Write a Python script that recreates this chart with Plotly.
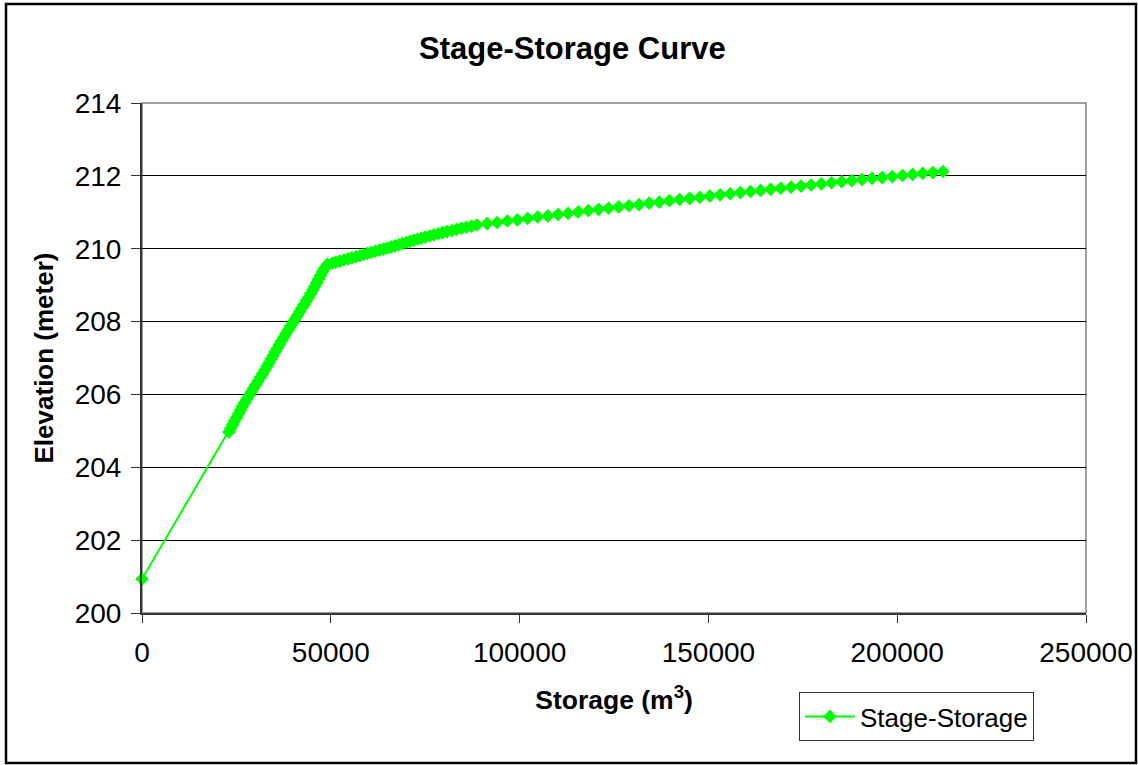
import plotly.graph_objects as go

# Stage-storage table: storage volume (m3) and water surface elevation (m)
storage = [
    0,
    # steep lower reach
    23000, 23500, 24000, 24500, 25050, 25600, 26100, 26600, 27150, 27750,
    28350, 28950, 29550, 30150, 30750, 31350, 31950, 32550, 33100, 33650,
    34200, 34750, 35300, 35850, 36400, 36950, 37550, 38150, 38750, 39350,
    39950, 40550, 41150, 41750, 42350, 42950, 43550, 44150, 44700, 45250,
    45800, 46300, 46800, 47300, 47800, 48400, 49100,
    # transition reach
    50400, 51300, 52400, 53500, 54600, 55600, 56700, 57700, 58700, 59700,
    60700, 61800, 62900, 64000, 65000, 66000, 67000, 68000, 69000, 70000,
    71000, 72000, 73000, 74000, 75000, 76200, 77300, 78500, 79600, 80800,
    82100, 83300, 84600, 85900, 87300,
    # upper reach
    88700, 91380, 94070, 96750, 99430, 102120, 104800, 107480, 110160, 112850,
    115530, 118210, 120900, 123580, 126260, 128950, 131630, 134310, 137000, 139680,
    142360, 145040, 147730, 150410, 153090, 155780, 158460, 161140, 163830, 166510,
    169190, 171880, 174560, 177240, 179920, 182610, 185290, 187970, 190660, 193340,
    196020, 198710, 201390, 204070, 206760, 209440, 212120,
]

elevation = [
    200.93,
    204.97, 205.07, 205.17, 205.27, 205.37, 205.47, 205.57, 205.67, 205.77, 205.87,
    205.97, 206.07, 206.17, 206.27, 206.37, 206.47, 206.57, 206.67, 206.77, 206.87,
    206.97, 207.07, 207.17, 207.27, 207.37, 207.47, 207.57, 207.67, 207.77, 207.87,
    207.97, 208.07, 208.17, 208.27, 208.37, 208.47, 208.57, 208.67, 208.77, 208.87,
    208.97, 209.07, 209.17, 209.27, 209.37, 209.47, 209.57,
    209.60, 209.63, 209.66, 209.69, 209.72, 209.75, 209.78, 209.81, 209.84, 209.87,
    209.90, 209.93, 209.96, 209.99, 210.02, 210.05, 210.08, 210.11, 210.14, 210.17,
    210.20, 210.23, 210.26, 210.29, 210.32, 210.35, 210.38, 210.41, 210.44, 210.47,
    210.50, 210.53, 210.56, 210.59, 210.62,
    210.65, 210.69, 210.72, 210.76, 210.79, 210.83, 210.87, 210.90, 210.94, 210.97,
    211.01, 211.05, 211.08, 211.11, 211.15, 211.18, 211.21, 211.25, 211.28, 211.32,
    211.35, 211.38, 211.41, 211.45, 211.48, 211.51, 211.54, 211.57, 211.60, 211.63,
    211.66, 211.69, 211.72, 211.75, 211.78, 211.81, 211.84, 211.87, 211.90, 211.93,
    211.95, 211.98, 212.01, 212.04, 212.07, 212.09, 212.12,
]

x_ticks = [0, 50000, 100000, 150000, 200000, 250000]
y_ticks = [200, 202, 204, 206, 208, 210, 212, 214]

FONT = "Liberation Sans, Arial, sans-serif"
GREEN = "#00FF00"

fig = go.Figure()
fig.add_trace(go.Scatter(
    x=storage,
    y=elevation,
    mode="lines+markers",
    name="Stage-Storage",
    line=dict(color=GREEN, width=2),
    marker=dict(symbol="diamond", size=10.5, color=GREEN),
    cliponaxis=False,
))

fig.update_layout(
    width=1138,
    height=765,
    margin=dict(l=142, r=52, t=103, b=152),
    paper_bgcolor="white",
    plot_bgcolor="white",
    font=dict(family=FONT, color="black"),
    title=dict(
        text="<b>Stage-Storage Curve</b>",
        font=dict(size=31, family=FONT, color="black"),
        x=0.503, xref="container", xanchor="center",
        y=1 - 48 / 765, yref="container", yanchor="middle",
    ),
    xaxis=dict(
        range=[0, 250000],
        tickvals=x_ticks,
        ticktext=[str(v) for v in x_ticks],
        ticks="outside", ticklen=8, tickcolor="#333333", tickwidth=1,
        showline=True, linecolor="#333333", linewidth=2,
        showgrid=False, zeroline=False,
        tickfont=dict(size=28, family=FONT),
        ticklabelstandoff=5,
        automargin=False,
        title=dict(text="<b>Storage (m<sup>3</sup>)</b>", font=dict(size=26.5, family=FONT), standoff=24),
    ),
    yaxis=dict(
        range=[200, 214],
        tickvals=y_ticks,
        ticks="outside", ticklen=9, tickcolor="#333333", tickwidth=1,
        showline=True, linecolor="#333333", linewidth=2,
        showgrid=True, gridcolor="black", gridwidth=1,
        zeroline=False,
        tickfont=dict(size=28, family=FONT),
        ticklabelstandoff=4,
        automargin=False,
        title=dict(text="<b>Elevation (meter)</b>", font=dict(size=26, family=FONT), standoff=14),
    ),
    showlegend=True,
    legend=dict(
        x=0.696, y=-0.155, xanchor="left", yanchor="top",
        bordercolor="#333333", borderwidth=1, bgcolor="white",
        font=dict(size=26, family=FONT, color="black"),
        itemwidth=50,
    ),
    shapes=[
        # grey frame around plot area (top and right)
        dict(type="rect", xref="paper", yref="paper", x0=0, x1=1, y0=0, y1=1,
             line=dict(color="#808080", width=1.5), fillcolor="rgba(0,0,0,0)", layer="below"),
        # chart outer border
        dict(type="rect", xref="paper", yref="paper",
             x0=(6 - 142) / 944, x1=(1136 - 142) / 944,
             y0=(613 - 763) / 510, y1=(613 - 4) / 510,
             line=dict(color="black", width=2.5), fillcolor="rgba(0,0,0,0)"),
    ],
)

fig.write_html("out.html")
